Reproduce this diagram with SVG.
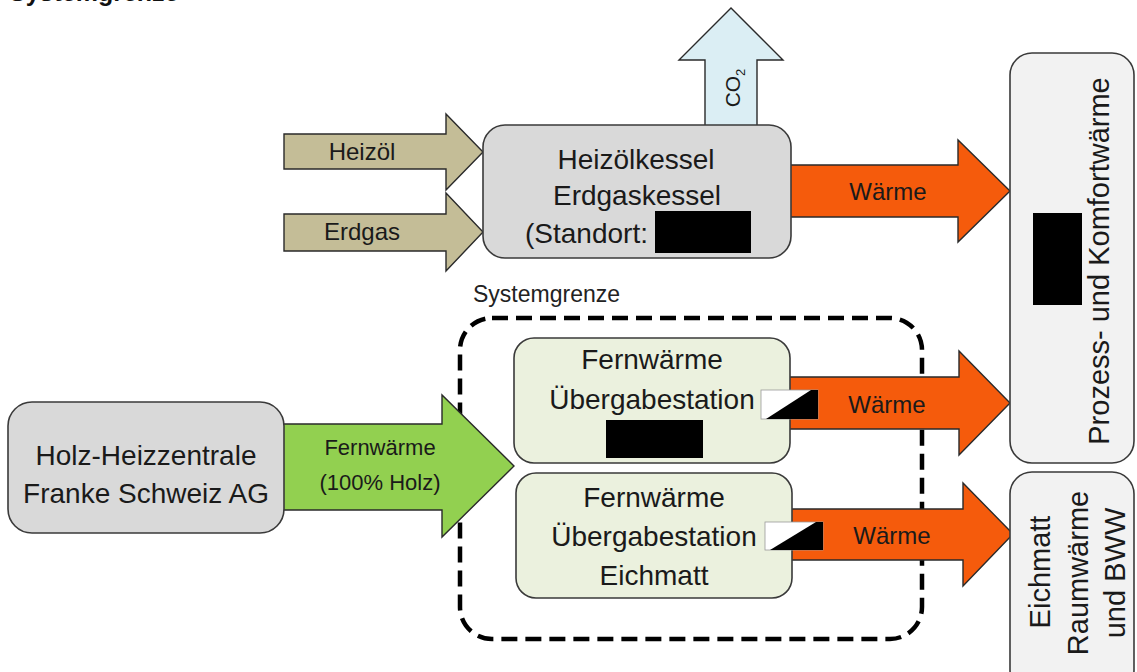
<svg xmlns="http://www.w3.org/2000/svg" width="1137" height="672" viewBox="0 0 1137 672">
<style>
text{font-family:"Liberation Sans",Arial,sans-serif;fill:#1a1a1a}
.t28{font-size:28px;text-anchor:middle}
.t29{font-size:29px;text-anchor:middle}
.t24{font-size:24px;text-anchor:middle}
.t22{font-size:22px;text-anchor:middle}
.box{stroke:#3a3a3a;stroke-width:1.6}
.arr{stroke:#2a2a2a;stroke-width:1.4;stroke-linejoin:miter}
.tan{fill:#C4BD97}
.org{fill:#F55B0C}
.grn{fill:#92D050}
.blu{fill:#DBEEF4}
</style>
<rect width="1137" height="672" fill="#ffffff"/>
<text x="9" y="1" style="font-size:25px;font-weight:bold;fill:#111">Systemgrenze</text>

<g id="systemgrenze">
<rect x="460" y="318" width="462" height="321" rx="32" fill="none" stroke="#000" stroke-width="4.5" stroke-dasharray="16 8"/>
<text x="473" y="302" style="font-size:23px;fill:#222">Systemgrenze</text>
</g>

<g id="connectors">
<g id="arrow-heizoel"><polygon class="arr tan" points="284,134 446,134 446,114 483,152 446,190 446,169 284,169"/><text class="t24" x="362" y="160">Heizöl</text></g>
<g id="arrow-erdgas"><polygon class="arr tan" points="284,214 446,214 446,193 483,232 446,271 446,251 284,251"/><text class="t24" x="362" y="240">Erdgas</text></g>
<g id="arrow-co2"><polygon class="arr blu" points="705,126 705,60 679,60 731,8 783,60 757,60 757,126"/><text transform="translate(740,88) rotate(-90)" style="font-size:21px;text-anchor:middle">CO<tspan style="font-size:13px" dy="5">2</tspan></text></g>
<g id="arrow-waerme-1"><polygon class="arr org" points="790,165 958,165 958,140 1010,191 958,242 958,217 790,217"/><text class="t24" x="888" y="200">Wärme</text></g>
<g id="arrow-fernwaerme"><polygon class="arr grn" points="283,424 442,424 442,395 514,466 442,537 442,510 283,510"/><text class="t22" x="380" y="455">Fernwärme</text><text class="t22" x="380" y="490">(100% Holz)</text></g>
<g id="arrow-waerme-2"><polygon class="arr org" points="789,377 959,377 959,351 1010,403 959,455 959,429 789,429"/><text class="t24" x="887" y="413">Wärme</text></g>
<g id="arrow-waerme-3"><polygon class="arr org" points="791,509 963,509 963,483 1013,534 963,586 963,560 791,560"/><text class="t24" x="892" y="544">Wärme</text></g>
</g>

<g id="node-kessel">
<rect class="box" x="483" y="125" width="308" height="133" rx="22" fill="#D9D9D9"/>
<text class="t28" x="636" y="169">Heizölkessel</text>
<text class="t28" x="637" y="205">Erdgaskessel</text>
<text x="525" y="243" style="font-size:28px">(Standort:</text>
<rect x="655" y="211" width="96" height="42" fill="#000"/>
</g>

<g id="node-holz">
<rect class="box" x="8" y="402" width="276" height="131" rx="24" fill="#D9D9D9"/>
<text class="t28" x="146" y="465">Holz-Heizzentrale</text>
<text class="t28" x="146" y="503">Franke Schweiz AG</text>
</g>

<g id="node-uebergabe-1">
<rect class="box" x="514" y="338" width="276" height="125" rx="20" fill="#EBF1DE"/>
<text class="t28" x="652" y="369">Fernwärme</text>
<text class="t28" x="652" y="409">Übergabestation</text>
<rect x="606" y="420" width="97" height="38" fill="#000"/>
<rect x="761" y="390" width="57" height="29" fill="#fff" stroke="#999" stroke-width="0.8"/>
<polygon points="766,419 811,390 818,390 818,419" fill="#000"/>
</g>

<g id="node-uebergabe-2">
<rect class="box" x="516" y="473" width="276" height="125" rx="20" fill="#EBF1DE"/>
<text class="t28" x="654" y="507">Fernwärme</text>
<text class="t28" x="654" y="546">Übergabestation</text>
<text class="t28" x="654" y="585">Eichmatt</text>
<rect x="765" y="522" width="58" height="28" fill="#fff" stroke="#999" stroke-width="0.8"/>
<polygon points="770,550 816,522 823,522 823,550" fill="#000"/>
</g>

<g id="node-prozess">
<rect class="box" x="1010" y="53" width="124" height="410" rx="22" fill="#F2F2F2"/>
<text class="t29" transform="translate(1109,261) rotate(-90)">Prozess- und Komfortwärme</text>
<rect x="1033" y="213" width="49" height="92" fill="#000"/>
</g>

<g id="node-eichmatt">
<rect class="box" x="1010" y="472" width="124" height="220" rx="22" fill="#F2F2F2"/>
<text class="t29" transform="translate(1050,572) rotate(-90)">Eichmatt</text>
<text class="t29" transform="translate(1088,573) rotate(-90)">Raumwärme</text>
<text class="t29" transform="translate(1125,573) rotate(-90)">und BWW</text>
</g>
</svg>
